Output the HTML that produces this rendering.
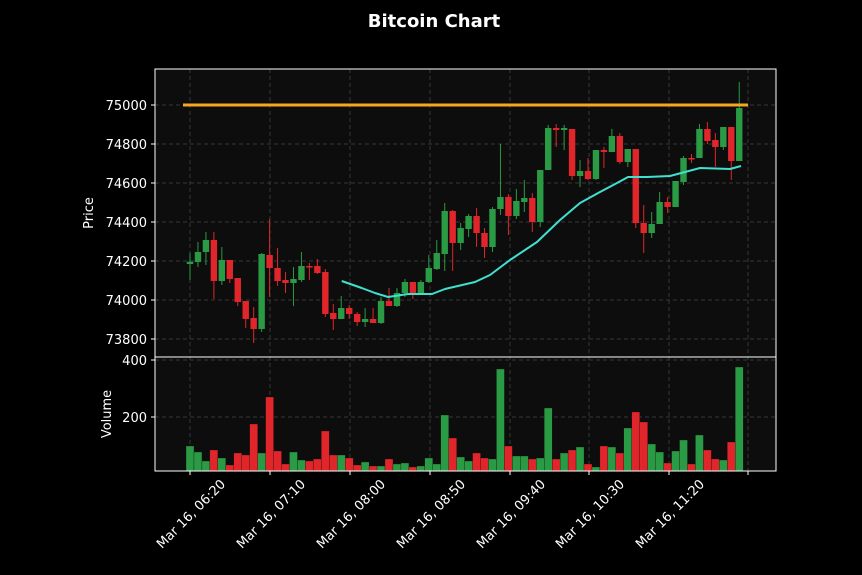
<!DOCTYPE html>
<html><head><meta charset="utf-8"><style>
html,body{margin:0;padding:0;background:#000;}
svg{display:block;font-family:"DejaVu Sans","Liberation Sans",sans-serif;}
</style></head><body>
<svg id="s" width="862" height="575" viewBox="0 0 862 575" xmlns="http://www.w3.org/2000/svg">
<rect width="862" height="575" fill="#000"/>
<text x="434" y="27" fill="#fff" font-size="18" font-weight="bold" text-anchor="middle">Bitcoin Chart</text>
<rect x="155" y="69" width="621" height="288" fill="#0d0d0d"/>
<rect x="155" y="357" width="621" height="114" fill="#0d0d0d"/>
<g id="grid" stroke="#444" stroke-width="0.8" stroke-dasharray="4,3"></g>
<g id="vol"></g>
<g id="cand"></g>
<line x1="183" y1="105" x2="748" y2="105" stroke="#f5a623" stroke-width="3"/>
<polyline fill="none" stroke="#40e0d0" stroke-width="2" stroke-linejoin="round" points="341.7,281 361.7,288 375,293 388,297 408,294 432,294 445,289 475,282 490,275 510,260 537,242 560,220 580,203 600,192 617,183 628,177 647,177 670,176 700,168 730,169 741,166"/>
<rect x="155" y="69" width="621" height="288" fill="none" stroke="#fff" stroke-width="1"/>
<rect x="155" y="357" width="621" height="114" fill="none" stroke="#fff" stroke-width="1"/>
<g id="ticks" fill="#fff" font-size="13"></g>
<text transform="translate(93,213) rotate(-90)" fill="#fff" font-size="13" text-anchor="middle">Price</text>
<text transform="translate(111,414) rotate(-90)" fill="#fff" font-size="13" text-anchor="middle">Volume</text>
</svg>
<script>
var NS="http://www.w3.org/2000/svg";
function el(p,t,a,txt){var e=document.createElementNS(NS,t);for(var k in a)e.setAttribute(k,a[k]);if(txt)e.textContent=txt;document.getElementById(p).appendChild(e);return e;}
var G="#2a9a45",R="#e0262a";
var xt=[190,270,350,430,510,589,669,748];
xt.forEach(function(x){el("grid","line",{x1:x,y1:69,x2:x,y2:471});el("ticks","line",{x1:x,y1:471,x2:x,y2:475,stroke:"#fff"});});
var labs=["06:20","07:10","08:00","08:50","09:40","10:30","11:20"];
labs.forEach(function(l,i){var x=xt[i];el("ticks","text",{transform:"translate("+(x+4)+",517) rotate(-45)","text-anchor":"middle"},"Mar 16, "+l);});
for(var p=73800;p<=75000;p+=200){var y=105+(75000-p)*0.195;el("grid","line",{x1:155,y1:y,x2:776,y2:y});el("ticks","line",{x1:151,y1:y,x2:155,y2:y,stroke:"#fff"});el("ticks","text",{x:147,y:y+5,"text-anchor":"end"},String(p));}
[[417,"200"],[360,"400"]].forEach(function(a){el("grid","line",{x1:155,y1:a[0],x2:776,y2:a[0]});el("ticks","line",{x1:151,y1:a[0],x2:155,y2:a[0],stroke:"#fff"});el("ticks","text",{x:147,y:a[0]+5,"text-anchor":"end"},a[1]);});
var vc="GGGRGRRRRGRRRGGRRRRGRRGRGRGGRGGGGRGGRRGGRGGRGGRGRGRGRGRGRRGGRGGRGRRGRG";
var vh=[273,291,318,285,309,330,294,300,207,294,126,288,327,291,315,318,312,228,300,300,309,330,321,333,333,312,327,324,336,333,309,327,180,249,306,318,294,309,312,42,273,303,303,312,309,159,312,294,285,276,327,336,273,276,294,219,171,201,267,291,324,288,255,327,240,285,312,315,261,36];
for(var i=0;i<70;i++){var x=190+7.96*i;var y=vh[i]/3+355;el("vol","rect",{x:x-4,y:y,width:8,height:471-y,fill:vc[i]=="G"?G:R,stroke:"#0d0d0d","stroke-width":0.3});}
var c=[
["G",261.7,264,253,280],["G",252,262,242,267],["G",240,252,232,265],["R",240,281,232,299],["G",260,281,247,285],
["R",260,279,260,283],["R",278,302,278,306],["R",301,319,301,328],["R",318,329,307,343],["G",254,329,253,332],
["R",255,268,219,297],["R",268,281,248,286],["R",280,283,272,293],["G",279,283,267,306],["G",266,280,252,282],
["R",266,267.5,263,280],["R",266,273,259,274],["R",272,314,269,317],["R",313,319,304,330],["G",308,319,296,319],
["R",308,314,305,319],["R",314,322,312,326],["G",319,322,308,327],["R",319,323,308,323],["G",301,323,297,324],
["R",301,306,288,306],["G",293,306,288,307],["G",282,293,279,297],["R",282,293,282,299],["G",282,293,280,293],
["G",268,282,255,283],["G",253,269,240,270],["G",211,254,203,271],["R",211,243,210,271],["G",228,243,223,250],
["G",216,229,214,237],["R",216,233,208,247],["R",233,247,228,258],["G",209,247,207,252],["G",197,209,144,215],
["R",197,216,194,235],["G",201,216,189,219],["G",198,202,180,212],["R",198,222,193,232],["G",170,222,170,227],
["G",128,170,125,170],["R",128,130,124,147],["G",128,130,125,150],["R",129,176,129,180],["G",171,176,160,187],
["R",171,179,158,180],["G",150,179,150,180],["R",150,152,147,168],["G",136,152,129,152],["R",136,162,133,164],
["G",149,162,149,167],["R",149,223,149,228],["R",223,233,205,253],["G",224,233,212,238],["G",202,224,192,224],
["R",202,207,197,213],["G",181,207,181,207],["G",158,182,156,185],["R",158,159.5,154,163],["G",129,158,124,158],
["R",129,141,122,144],["R",140,147,133,167],["G",127,147,127,150],["R",127,161,127,180],["G",108,161,82,161]];
for(var i=0;i<c.length;i++){var x=190+7.96*i;var d=c[i];var col=d[0]=="G"?G:R;
el("cand","line",{x1:x,y1:d[3],x2:x,y2:d[4],stroke:col,"stroke-width":1});
el("cand","rect",{x:x-3.2,y:d[1],width:6.4,height:Math.max(1.2,d[2]-d[1]),fill:col});}
</script>
</body></html>
